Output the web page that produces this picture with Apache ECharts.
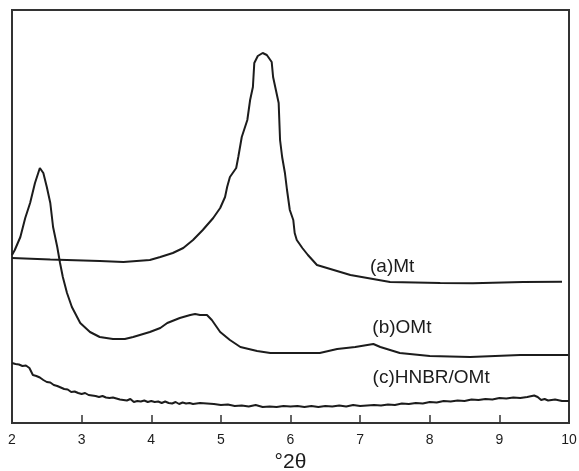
<!DOCTYPE html>
<html>
<head>
<meta charset="utf-8">
<script src="https://cdn.jsdelivr.net/npm/echarts@6/dist/echarts.min.js"></script>
<style>
  html, body { margin: 0; padding: 0; background: #fff; }
  #chart { width: 579px; height: 471px; }
</style>
</head>
<body>
<div id="chart"></div>
<script>
// 2θ 刻度
const xTicks = [2, 3, 4, 5, 6, 7, 8, 9, 10]

// (a) Mt: [2θ, 强度 a.u.]
const mtData = [
  [2.0, 165], [2.55, 163.5], [3.26, 162], [3.6, 161], [3.98, 163],
  [4.13, 166], [4.31, 170], [4.46, 175], [4.6, 183], [4.74, 193],
  [4.89, 205], [4.99, 215], [5.06, 226], [5.09, 236], [5.13, 246],
  [5.22, 255], [5.25, 266], [5.3, 286], [5.38, 303], [5.42, 323],
  [5.46, 336], [5.48, 360], [5.53, 367], [5.6, 370], [5.66, 368],
  [5.73, 361], [5.75, 346], [5.79, 333], [5.83, 320], [5.85, 283],
  [5.88, 266], [5.92, 250], [5.95, 233], [5.99, 213], [6.04, 203],
  [6.06, 190], [6.09, 183], [6.17, 175], [6.25, 168], [6.38, 158],
  [6.86, 148], [7.43, 141], [8.15, 140], [8.62, 139.7], [9.34, 141],
  [9.9, 141.3]
]

// (b) OMt
const omtData = [
  [2.0, 168], [2.04, 173], [2.12, 186], [2.19, 205], [2.26, 220],
  [2.33, 240], [2.4, 255], [2.45, 250], [2.5, 236], [2.55, 220],
  [2.59, 196], [2.65, 176], [2.69, 160], [2.73, 146], [2.79, 130],
  [2.86, 116], [2.98, 100], [3.12, 91], [3.26, 86], [3.45, 84],
  [3.62, 84], [3.74, 86], [3.98, 91], [4.13, 95], [4.23, 100],
  [4.41, 105], [4.56, 108], [4.63, 109], [4.7, 108], [4.8, 108],
  [4.87, 103], [4.99, 91], [5.13, 83], [5.28, 76], [5.52, 72],
  [5.71, 70], [6.14, 70], [6.42, 70], [6.67, 74], [6.93, 76],
  [7.19, 79], [7.29, 76], [7.57, 70], [8.0, 67], [8.58, 66],
  [9.3, 68], [9.99, 68]
]

// (c) HNBR/OMt
const hnbrData = [
  [2.0, 60], [2.05, 59], [2.1, 58.5], [2.15, 57], [2.2, 57.5], [2.25, 55],
  [2.3, 48], [2.35, 47], [2.4, 45.5], [2.45, 43], [2.5, 41], [2.55, 40.5],
  [2.6, 38], [2.65, 37], [2.7, 35.5], [2.75, 34], [2.8, 33.5], [2.85, 31],
  [2.9, 31.5], [2.95, 30], [3.0, 29], [3.05, 30], [3.1, 28], [3.15, 27.5],
  [3.2, 27], [3.25, 26], [3.3, 27], [3.35, 25.5], [3.4, 25], [3.45, 25.5],
  [3.5, 24.5], [3.55, 23.5], [3.6, 23], [3.65, 22.5], [3.7, 24], [3.75, 21],
  [3.8, 22], [3.85, 21.5], [3.9, 22.5], [3.95, 21], [4.0, 22], [4.05, 21],
  [4.1, 21.5], [4.15, 20], [4.2, 21.5], [4.25, 20], [4.3, 19.5], [4.35, 21],
  [4.4, 19], [4.45, 20.5], [4.5, 19.5], [4.55, 20], [4.6, 19], [4.7, 20],
  [4.8, 19.5], [4.9, 19], [5.0, 18], [5.1, 18.5], [5.2, 17], [5.3, 17.5],
  [5.4, 16.5], [5.5, 18], [5.6, 16], [5.7, 16.5], [5.8, 16], [5.9, 17],
  [6.0, 16.5], [6.1, 17], [6.2, 16], [6.3, 17], [6.4, 16], [6.5, 17],
  [6.6, 16.5], [6.7, 17.5], [6.8, 16.5], [6.9, 18], [7.0, 17], [7.1, 17.5],
  [7.2, 18], [7.3, 17.5], [7.4, 18.5], [7.5, 18], [7.6, 19.5], [7.7, 19],
  [7.8, 20], [7.9, 19.5], [8.0, 21], [8.1, 20.5], [8.2, 22], [8.3, 21.5],
  [8.4, 22.5], [8.5, 22], [8.6, 23.5], [8.7, 23], [8.8, 24], [8.9, 23.5],
  [9.0, 25], [9.1, 24.5], [9.2, 25.5], [9.3, 25], [9.4, 26], [9.5, 27.5],
  [9.55, 26], [9.6, 23], [9.65, 24], [9.7, 22.5], [9.8, 23.5], [9.9, 22],
  [10.0, 22]
]

// 曲线标注 [文字, 2θ, 强度]
const curveLabels = [
  ['(a)Mt', 7.46, 156],
  ['(b)OMt', 7.6, 95],
  ['(c)HNBR/OMt', 8.02, 45]
]

const lineColor = '#1c1c1c'
const fontFamily = 'Liberation Sans, Arial, sans-serif'

const makeSeries = (data, label) => ({
  type: 'line',
  data,
  showSymbol: false,
  smooth: false,
  lineStyle: { color: lineColor, width: 2 },
  silent: true,
  markPoint: {
    symbol: 'circle',
    symbolSize: 1,
    itemStyle: { color: 'rgba(0,0,0,0)' },
    label: {
      show: true,
      position: 'inside',
      formatter: label[0],
      color: '#1c1c1c',
      fontSize: 19,
      fontFamily
    },
    data: [{ coord: [label[1], label[2]] }]
  }
})

const chart = echarts.init(document.getElementById('chart'), null, { renderer: 'canvas' })
chart.setOption({
  backgroundColor: '#fff',
  animation: false,
  grid: {
    left: 12, right: 10, top: 10, bottom: 48,
    containLabel: false,
    outerBoundsMode: 'none',
    show: true, borderColor: '#333', borderWidth: 2
  },
  xAxis: {
    type: 'value',
    min: xTicks[0],
    max: xTicks[xTicks.length - 1],
    interval: 1,
    name: '°2θ',
    nameLocation: 'middle',
    nameGap: 28,
    nameTextStyle: { color: '#1c1c1c', fontSize: 21, fontFamily },
    axisLine: { show: true, lineStyle: { color: '#333', width: 2 } },
    axisTick: { show: true, inside: true, length: 8, lineStyle: { color: '#333', width: 1.5 } },
    axisLabel: { color: '#1c1c1c', fontSize: 14, fontFamily, margin: 10 },
    splitLine: { show: false }
  },
  yAxis: {
    type: 'value',
    min: 0,
    max: 413,
    axisLine: { show: false },
    axisTick: { show: false },
    axisLabel: { show: false },
    splitLine: { show: false }
  },
  series: [
    makeSeries(mtData, curveLabels[0]),
    makeSeries(omtData, curveLabels[1]),
    makeSeries(hnbrData, curveLabels[2])
  ]
})
</script>
</body>
</html>
